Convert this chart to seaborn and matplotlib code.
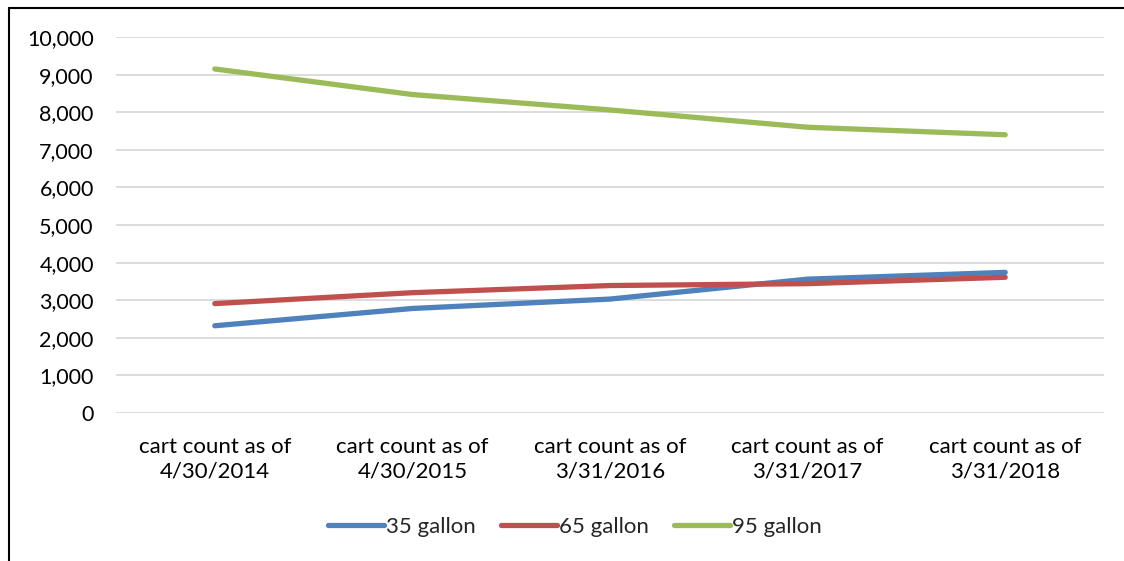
import matplotlib
matplotlib.use("Agg")
import matplotlib.pyplot as plt
from matplotlib.lines import Line2D
from matplotlib.ticker import FuncFormatter
import seaborn as sns
import pandas as pd

categories = ["cart count as of\n4/30/2014", "cart count as of\n4/30/2015",
              "cart count as of\n3/31/2016", "cart count as of\n3/31/2017",
              "cart count as of\n3/31/2018"]
gal35 = [2320, 2780, 3030, 3560, 3740]
gal65 = [2910, 3200, 3390, 3440, 3610]
gal95 = [9150, 8470, 8060, 7600, 7400]
series_names = ["35 gallon", "65 gallon", "95 gallon"]
colors = ["#4F81BD", "#C0504D", "#9BBB59"]

rows = []
for name, vals in zip(series_names, [gal35, gal65, gal95]):
    for i, v in enumerate(vals):
        rows.append({"pos": i, "value": v, "series": name})
df = pd.DataFrame(rows)

sns.set_theme(style="white")
plt.rcParams["font.family"] = ["Lato", "DejaVu Sans"]

fig = plt.figure(figsize=(11.24, 5.61), dpi=100)
ax = fig.add_axes([116/1124, 1-413/561, (1104-116)/1124, (413-37)/561])

sns.lineplot(data=df, x="pos", y="value", hue="series", palette=colors,
             hue_order=series_names, linewidth=3.8, ax=ax, legend=True,
             solid_capstyle="round")

ax.set_xlim(-0.5, 4.5)
ax.set_ylim(0, 10000)
ax.set_yticks(range(0, 10001, 1000))
ax.yaxis.set_major_formatter(FuncFormatter(lambda v, p: f"{int(v):,}"))
ax.set_xticks(range(len(categories)))
ax.set_xticklabels(categories, linespacing=1.3)
ax.tick_params(axis="y", labelsize=15.5, pad=16, length=0, colors="#000000")
ax.tick_params(axis="x", labelsize=16, pad=17, length=0, colors="#000000")
ax.grid(axis="y", color="#D9D9D9", linewidth=1.3)
ax.grid(axis="x", visible=False)
for s in ax.spines.values():
    s.set_visible(False)
ax.set_xlabel("")
ax.set_ylabel("")

leg = ax.legend(loc="center", bbox_to_anchor=(575/1124, 1-527/561),
                bbox_transform=fig.transFigure, ncol=3, frameon=False,
                fontsize=16, handlelength=2.5, handletextpad=0.1,
                columnspacing=1.15)
for h in leg.get_lines():
    h.set_linewidth(3.8)
    h.set_solid_capstyle("round")

# figure frame (left and top edges)
fig.add_artist(Line2D([9/1124, 9/1124], [0, 1-8/561], transform=fig.transFigure,
                      color="black", linewidth=1.5))
fig.add_artist(Line2D([9/1124, 1], [1-8/561, 1-8/561], transform=fig.transFigure,
                      color="black", linewidth=1.5))

fig.savefig("out.png", dpi=100)
